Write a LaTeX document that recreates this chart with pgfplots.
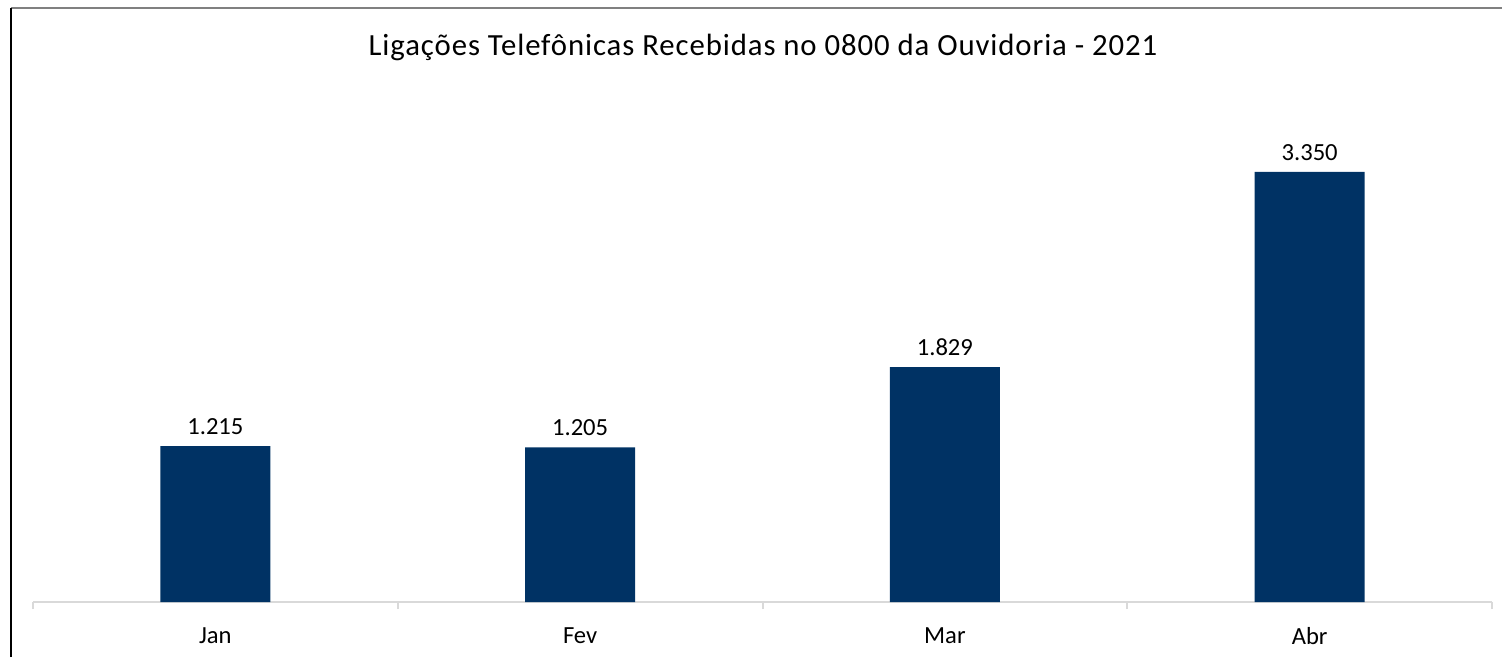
\documentclass[border=0pt]{standalone}
\usepackage{fontspec}
\setmainfont{Carlito}
\newfontfamily\titlefont[LetterSpace=3.0]{Carlito}
\usepackage{pgfplots}
\pgfplotsset{compat=1.18}
\definecolor{barblue}{RGB}{0,50,100}
\definecolor{axisgray}{RGB}{217,217,217}
\begin{document}
\begin{tikzpicture}
\path[use as bounding box] (0,0) rectangle (150.2mm,65.7mm);
% moldura parcial da captura
\draw[gray, line width=0.25mm] (1.1mm,64.9mm) -- (150.2mm,64.9mm);
\draw[black, line width=0.2mm] (1.1mm,0) -- (1.1mm,64.9mm);
\node[font=\titlefont\fontsize{8.75pt}{10pt}\selectfont, anchor=center] at (76.3mm,61.0mm)
  {Ligações Telefônicas Recebidas no 0800 da Ouvidoria - 2021};
\begin{axis}[
  at={(3.3mm,5.5mm)}, anchor=south west,
  scale only axis, width=145.9mm, height=50.2mm,
  xmin=-0.5, xmax=3.5, ymin=0, ymax=3910,
  axis y line=none, axis x line*=bottom,
  x axis line style={axisgray, line width=0.2mm, -},
  xtick=data, xticklabels={Jan,Fev,Mar,Abr},
  major tick length=0pt,
  extra x ticks={-0.5,0.5,1.5,2.5,3.5}, extra x tick labels={},
  extra x tick style={major tick length=0.7mm, tick style={axisgray, line width=0.2mm},
    tick align=outside},
  xticklabel style={font=\fontsize{7pt}{8pt}\selectfont, yshift=-1.3mm},
  ybar, bar width=11mm,
  nodes near coords, point meta=explicit symbolic,
  every node near coord/.append style={font=\fontsize{7pt}{8pt}\selectfont, yshift=-0.1mm},
  clip=false,
]
\addplot[fill=barblue, draw=none] coordinates {
  (0,1215) [1.215]
  (1,1205) [1.205]
  (2,1829) [1.829]
  (3,3350) [3.350]
};
\end{axis}
\end{tikzpicture}
\end{document}
